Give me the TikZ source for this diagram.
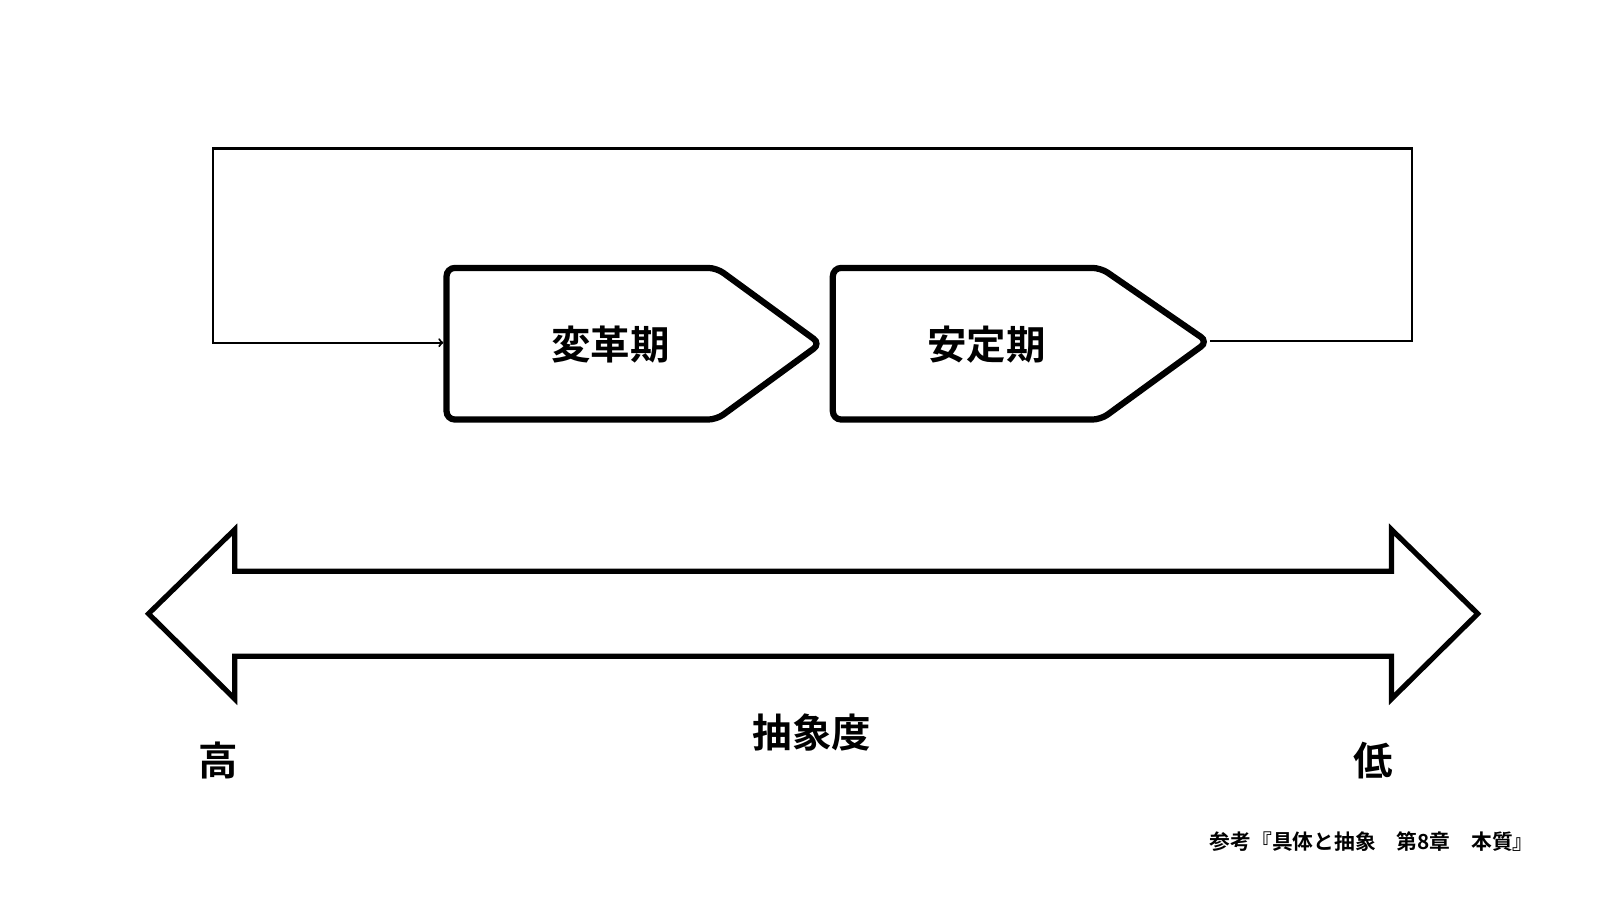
\documentclass[tikz,border=0pt]{standalone}
\usepackage{fontspec}
\newfontfamily\cjk{Noto Sans CJK JP}[BoldFont={* Bold}]
\begin{document}
\begin{tikzpicture}[x=1pt,y=-1pt,
  phase/.style={line width=6pt,rounded corners=8pt,fill=white},
  lbl/.style={font=\cjk\bfseries\fontsize{38}{40}\selectfont,inner sep=0pt},
  thin/.style={line width=2pt}]
\useasboundingbox[fill=white] (0,0) rectangle (1560,878);
% phase shapes
\draw[phase] (430,258) -- (690,258) -- (790,331) -- (690,404) -- (430,404) -- cycle;
\draw[phase] (802,258) -- (1060,258) -- (1163,329) -- (1060,404) -- (802,404) -- cycle;
\node[lbl] (p1) at (588,332) {変革期};
\node[lbl] (p2) at (950,332) {安定期};
\coordinate (t2) at (1165,328);
\coordinate (e1) at (427,330);
% feedback
\draw[thin,->] (t2) -- (1360,328) -- (1360,143) -- (205,143) -- (205,330) -- (e1);
% double arrow
\draw[line width=5pt,line join=miter] (143,591) -- (226,510) -- (226,550) -- (1340,550) -- (1340,510) -- (1423,591) -- (1340,673) -- (1340,632) -- (226,632) -- (226,673) -- cycle;
\node[lbl] (abs) at (782,705) {抽象度};
\node[lbl] (hi) at (210,732) {高};
\node[lbl] (lo) at (1322,732) {低};
\node[font=\cjk\bfseries\fontsize{20}{22}\selectfont,anchor=east,inner sep=0pt] (ref) at (1477,810) {参考『具体と抽象\quad 第8章\quad 本質』};
\end{tikzpicture}
\end{document}
